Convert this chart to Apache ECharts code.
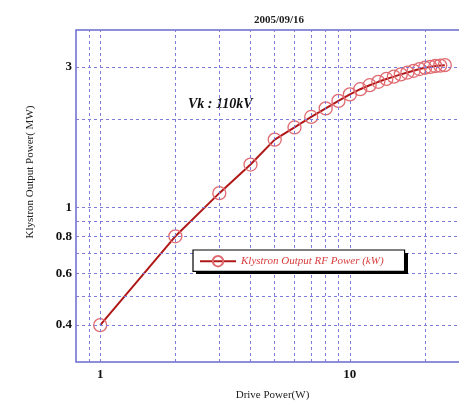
<!DOCTYPE html>
<html><head><meta charset="utf-8">
<script src="https://cdn.jsdelivr.net/npm/echarts@6/dist/echarts.min.js"></script>
<style>html,body{margin:0;padding:0;background:#fff}#c{width:459px;height:403px}</style>
</head><body><div id="c"></div>
<script>
var driveW = [1, 2, 3, 4, 5, 6, 7, 8, 9, 10, 11, 12, 13, 14, 15, 16, 17, 18, 19, 20, 21, 22, 23, 24];
var outputMW = [0.40, 0.80, 1.12, 1.40, 1.70, 1.87, 2.03, 2.17, 2.30, 2.42, 2.52, 2.60, 2.67, 2.73, 2.78, 2.83, 2.87, 2.91, 2.95, 2.98, 3.00, 3.02, 3.03, 3.04];
var xGrid = [0.9, 1, 2, 3, 4, 5, 6, 7, 8, 9, 10, 20];
var xTickLabels = [1, 10];
var yGrid = [0.4, 0.5, 0.6, 0.7, 0.8, 0.9, 1, 2, 3];
var yTickLabels = [0.4, 0.6, 0.8, 1, 3];
var seriesName = 'Klystron Output RF Power (kW)';

var serif = 'Liberation Serif, Times New Roman, serif';
var gridLine = {type: [3, 3], color: '#7c7cd8', width: 1};
var ml = [];
xGrid.forEach(function (v) {
  var show = xTickLabels.indexOf(v) >= 0;
  ml.push({xAxis: v, lineStyle: gridLine,
    label: {show: show, position: 'start', distance: 6, formatter: String(v),
      color: '#111', fontFamily: serif, fontWeight: 'bold', fontSize: 13}});
});
yGrid.forEach(function (v) {
  var show = yTickLabels.indexOf(v) >= 0;
  ml.push({yAxis: v, lineStyle: gridLine,
    label: {show: show, position: 'start', distance: 4, formatter: String(v),
      color: '#111', fontFamily: serif, fontWeight: 'bold', fontSize: 13}});
});

var chart = echarts.init(document.getElementById('c'));
chart.setOption({
  animation: false,
  backgroundColor: '#fff',
  title: {text: '2005/09/16', left: 274, top: 10, textAlign: 'center',
    textStyle: {fontFamily: serif, fontWeight: 'bold', fontSize: 11, color: '#222'}},
  grid: {left: 76, width: 393, top: 30, height: 332, show: true, outerBoundsMode: 'none',
    containLabel: false,
    borderColor: '#6a6ad0', borderWidth: 1.5, backgroundColor: '#fff'},
  xAxis: {type: 'log', logBase: 10, min: 0.8, max: 30,
    axisLine: {show: false}, axisTick: {show: false}, axisLabel: {show: false},
    splitLine: {show: false},
    name: 'Drive Power(W)', nameLocation: 'middle', nameGap: 28,
    nameTextStyle: {fontFamily: serif, fontSize: 11, color: '#222'}},
  yAxis: {type: 'log', logBase: 10, min: 0.3, max: 4,
    axisLine: {show: false}, axisTick: {show: false}, axisLabel: {show: false},
    splitLine: {show: false}},
  legend: {data: [seriesName], left: 193, top: 250, orient: 'horizontal', z: 10,
    backgroundColor: '#fff', borderColor: '#000', borderWidth: 1.2,
    padding: [5, 21, 4, 6], itemWidth: 36, itemHeight: 13, itemGap: 4,
    textStyle: {color: '#d84040', fontFamily: serif, fontStyle: 'italic', fontSize: 11}},
  graphic: [
    {type: 'rect', left: 196, top: 253, z: 9, shape: {width: 212, height: 21},
      style: {fill: '#000'}},
    {type: 'text', left: 188, top: 97,
      style: {text: 'Vk : 110kV', font: 'italic bold 14px ' + serif, fill: '#111'}},
    {type: 'text', x: 30, y: 172, rotation: Math.PI / 2,
      style: {text: 'Klystron Output Power( MW)', font: '11px ' + serif, fill: '#222',
        align: 'center', verticalAlign: 'middle'}}
  ],
  series: [
    {type: 'line', name: 'grid', data: [], z: 1, silent: true,
      markLine: {silent: true, symbol: ['none', 'none'], animation: false, data: ml}},
    {type: 'line', name: seriesName, z: 3,
      data: driveW.map(function (x, i) { return [x, outputMW[i]]; }),
      symbol: 'circle', symbolSize: 13, showSymbol: true,
      lineStyle: {color: '#b01818', width: 2},
      itemStyle: {color: 'rgba(255,255,255,0)', borderColor: '#e06a70', borderWidth: 1.3}}
  ]
});
</script></body></html>
